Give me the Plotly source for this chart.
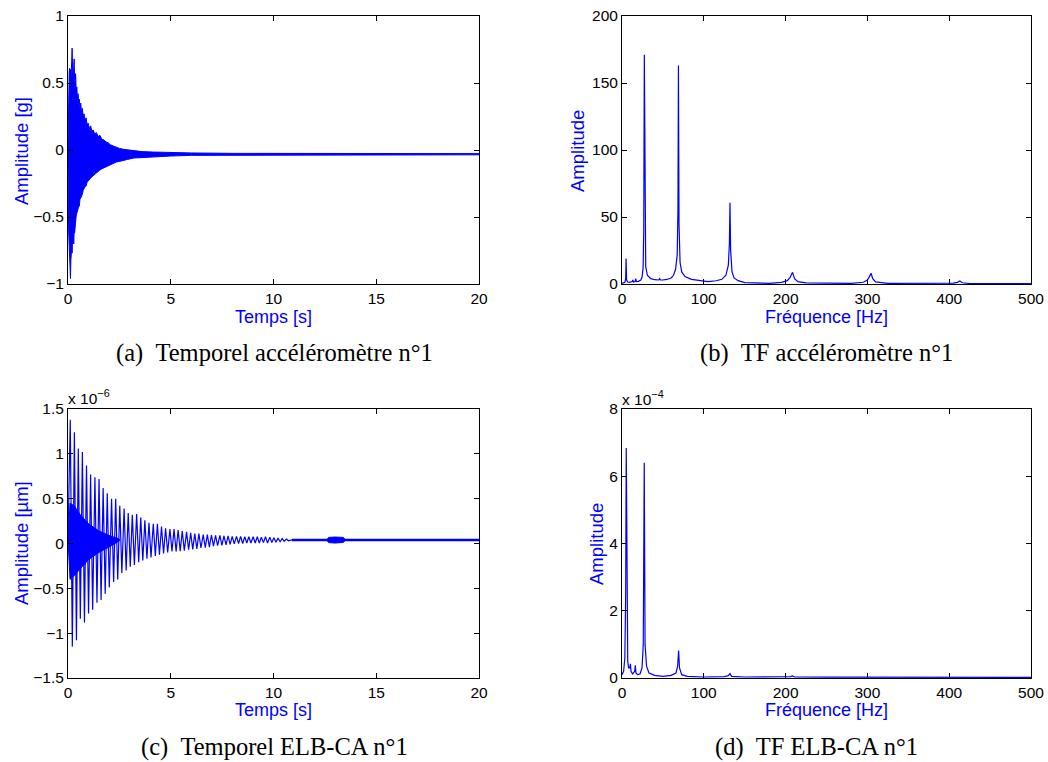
import plotly.graph_objects as go

BLUE = "#0000ff"
SANS = "Liberation Sans, Arial, sans-serif"
SERIF = "Liberation Serif, Times New Roman, serif"

# ---------------- (a) accelerometer, time signal envelope [g] ----------------
t_a = [0.00, 0.03, 0.06, 0.08, 0.10, 0.12, 0.14, 0.16, 0.18, 0.20, 0.22, 0.24, 0.26, 0.28,
       0.30, 0.32, 0.35, 0.37, 0.40, 0.43, 0.46, 0.49, 0.52, 0.55, 0.58, 0.62, 0.66, 0.70,
       0.74, 0.78, 0.83, 0.88, 0.93, 0.98, 1.04, 1.10, 1.16, 1.22, 1.30, 1.38, 1.46, 1.55,
       1.65, 1.75, 1.85, 1.95, 2.05, 2.20, 2.35, 2.50, 2.70, 2.90, 3.20, 3.60, 4.10, 5.0,
       6.0, 8.0, 10.0, 12.0, 14.0, 16.0, 18.0, 20.0]
up_a = [0.05, 0.50, 0.58, 0.61, 0.48, 0.60, 0.52, 0.58, 0.66, 0.76, 0.62, 0.58, 0.52, 0.63,
        0.68, 0.52, 0.48, 0.57, 0.44, 0.47, 0.38, 0.42, 0.36, 0.38, 0.31, 0.35, 0.28, 0.31,
        0.25, 0.27, 0.22, 0.24, 0.19, 0.20, 0.16, 0.18, 0.14, 0.15, 0.12, 0.13, 0.10, 0.11,
        0.08, 0.075, 0.06, 0.055, 0.04, 0.03, 0.02, 0.012, 0.005, 0.0, -0.005, -0.012,
        -0.015, -0.02, -0.022, -0.025, -0.026, -0.027, -0.027, -0.027, -0.027, -0.027]
lo_a = [-0.10, -0.60, -0.72, -0.80, -0.90, -0.96, -0.82, -0.78, -0.72, -0.77, -0.66, -0.70,
        -0.64, -0.70, -0.60, -0.62, -0.56, -0.57, -0.49, -0.47, -0.45, -0.44, -0.41, -0.42,
        -0.37, -0.36, -0.34, -0.33, -0.30, -0.29, -0.27, -0.27, -0.24, -0.23, -0.22, -0.21,
        -0.20, -0.19, -0.18, -0.17, -0.16, -0.15, -0.14, -0.13, -0.125, -0.12, -0.11, -0.10,
        -0.09, -0.085, -0.075, -0.07, -0.06, -0.055, -0.05, -0.045, -0.04, -0.038, -0.036,
        -0.036, -0.036, -0.036, -0.036, -0.036]

# ---------------- (b) accelerometer spectrum ----------------
f_b = [0, 2, 3.5, 4.5, 5.0, 5.6, 7, 9, 11, 12.5, 13.2, 14, 16, 16.8, 17.6, 20, 23, 24.5,
       25.8, 26.6, 27.3, 28.0, 29, 31, 35, 40, 45, 46, 47, 50, 55, 60, 63, 65.5, 67.5,
       68.4, 69.0, 69.7, 71, 73, 77, 85, 95, 105, 115, 122, 127, 130, 131.3, 132, 132.8,
       134.5, 137, 142, 150, 160, 180, 195, 202, 205.5, 208.5, 211, 215, 225, 250, 280,
       295, 300, 302.5, 304.5, 306.5, 310, 325, 380, 405, 410, 413, 416, 425, 500]
amp_b = [0.5, 0.6, 1.2, 4, 19, 3, 1.5, 1.2, 1.3, 1.8, 3, 1.5, 1.8, 4, 1.8, 2, 3, 5,
         12, 40, 171, 40, 13, 6.5, 4, 3.2, 3.0, 4, 3, 3.0, 3.4, 4.5, 6.5, 11, 22,
         55, 163, 45, 16, 9, 5.5, 3.5, 2.4, 1.8, 2.4, 3.5, 6.5, 14, 30, 60.7, 25,
         9, 4.5, 2.5, 1.0, 0.7, 0.5, 1.2, 2.5, 5, 8.7, 4, 1.8, 0.8, 0.5, 0.5,
         1.3, 3, 5.5, 8, 4, 1.6, 0.5, 0.4, 0.6, 1.2, 2.2, 0.9, 0.35, 0.25]

# ---------------- (c) ELB-CA time signal [x 1e-6 um] ----------------
tc_up = [0.11, 0.31, 0.50, 0.70, 0.90, 1.10, 1.31, 1.51, 1.71, 1.91, 2.12, 2.32, 2.52, 2.73,
         2.93, 3.13, 3.34, 3.54, 3.74, 3.94, 4.15, 4.35, 4.55, 4.75, 4.96, 5.16, 5.36, 5.56,
         5.77, 5.97, 6.17, 6.37, 6.58, 6.78, 6.98, 7.18, 7.39, 7.59, 7.79, 7.99, 8.20, 8.40,
         8.60, 8.80, 9.01, 9.21, 9.41, 9.61, 9.82, 10.02, 10.22, 10.42, 10.63]
up_c = [1.38, 1.24, 1.06, 1.02, 0.87, 0.77, 0.74, 0.72, 0.62, 0.56, 0.50, 0.50, 0.42, 0.39,
        0.34, 0.32, 0.33, 0.29, 0.26, 0.23, 0.22, 0.22, 0.19, 0.17, 0.16, 0.16, 0.15, 0.14,
        0.13, 0.12, 0.11, 0.11, 0.10, 0.10, 0.095, 0.09, 0.09, 0.085, 0.085, 0.08, 0.08, 0.08,
        0.075, 0.075, 0.075, 0.075, 0.07, 0.075, 0.07, 0.065, 0.06, 0.055, 0.05]
tc_lo = [0.21, 0.41, 0.60, 0.80, 1.00, 1.20, 1.41, 1.61, 1.81, 2.01, 2.22, 2.42, 2.62, 2.83,
         3.03, 3.23, 3.44, 3.64, 3.84, 4.04, 4.25, 4.45, 4.65, 4.85, 5.06, 5.26, 5.46, 5.66,
         5.87, 6.07, 6.27, 6.47, 6.68, 6.88, 7.08, 7.28, 7.49, 7.69, 7.89, 8.09, 8.30, 8.50,
         8.70, 8.90, 9.11, 9.31, 9.51, 9.71, 9.92, 10.12, 10.32, 10.52, 10.73]
lo_c = [-1.15, -1.08, -0.84, -0.88, -0.78, -0.74, -0.66, -0.63, -0.56, -0.49, -0.43, -0.40,
        -0.33, -0.30, -0.26, -0.24, -0.21, -0.19, -0.17, -0.155, -0.14, -0.125, -0.11, -0.10,
        -0.09, -0.09, -0.085, -0.08, -0.07, -0.065, -0.06, -0.05, -0.045, -0.04, -0.03, -0.025,
        -0.02, -0.015, -0.01, -0.005, 0.0, 0.0, 0.005, 0.005, 0.005, 0.005, 0.01, 0.005, 0.01,
        0.015, 0.02, 0.025, 0.03]
c_base = 0.04
# dense higher-frequency core of (c)
t_core = [0.0, 0.1, 0.3, 0.6, 1.0, 1.5, 2.0, 2.5]
up_core = [0.04, 0.45, 0.42, 0.32, 0.22, 0.14, 0.09, 0.05]
lo_core = [0.04, -0.40, -0.36, -0.28, -0.18, -0.10, -0.04, 0.03]
# small burst around 13 s
t_burst = [12.6, 12.68, 13.0, 13.4, 13.5]
up_burst = [0.04, 0.068, 0.072, 0.068, 0.04]
lo_burst = [0.04, 0.01, 0.005, 0.012, 0.04]

# ---------------- (d) ELB-CA spectrum [x 1e-4] ----------------
f_d = [0, 2, 3.5, 4.5, 5.2, 6, 7, 8, 9.5, 10.3, 11, 13, 15.5, 16.3, 17, 19, 22, 24.5, 26,
       27.2, 28.2, 30, 33, 40, 50, 60, 66, 68, 69.2, 70.3, 73, 80, 100, 125, 130, 132, 134,
       150, 200, 206, 208.5, 211, 250, 500]
amp_d = [0.1, 0.2, 0.6, 2.5, 6.84, 2.0, 0.5, 0.3, 0.3, 0.42, 0.2, 0.12, 0.2, 0.38, 0.15,
         0.1, 0.12, 0.3, 1.0, 6.4, 1.0, 0.35, 0.15, 0.08, 0.05, 0.08, 0.15, 0.35, 0.815, 0.3,
         0.1, 0.05, 0.03, 0.04, 0.07, 0.13, 0.05, 0.03, 0.03, 0.04, 0.06, 0.03, 0.025, 0.02]

# ---------------- ticks & texts ----------------
t_ticks = [0, 5, 10, 15, 20]
f_ticks = [0, 100, 200, 300, 400, 500]
ya_ticks = [-1, -0.5, 0, 0.5, 1]
ya_text = ["\u22121", "\u22120.5", "0", "0.5", "1"]
yb_ticks = [0, 50, 100, 150, 200]
yc_ticks = [-1.5, -1, -0.5, 0, 0.5, 1, 1.5]
yc_text = ["\u22121.5", "\u22121", "\u22120.5", "0", "0.5", "1", "1.5"]
yd_ticks = [0, 2, 4, 6, 8]
captions = ["(a)\u2002Temporel accéléromètre n°1", "(b)\u2002TF accéléromètre n°1",
            "(c)\u2002Temporel ELB-CA n°1", "(d)\u2002TF ELB-CA n°1"]

W, H = 1048, 762
def px(x):
    return x / W
def py(y):
    return 1 - y / H

fig = go.Figure()

# (a)
fig.add_trace(go.Scatter(x=t_a + t_a[::-1], y=up_a + lo_a[::-1], fill="toself",
                         fillcolor=BLUE, mode="lines", line=dict(color=BLUE, width=1),
                         xaxis="x", yaxis="y", hoverinfo="skip"))
# (b)
fig.add_trace(go.Scatter(x=f_b, y=amp_b, mode="lines", line=dict(color=BLUE, width=1.2),
                         xaxis="x2", yaxis="y2"))
# (c)
xc = [0.0]
yc = [c_base]
for a, b, c, d in zip(tc_up, up_c, tc_lo, lo_c):
    xc += [a, c]
    yc += [b, d]
xc += [10.9]
yc += [c_base]
fig.add_trace(go.Scatter(x=t_core + t_core[::-1], y=up_core + lo_core[::-1], fill="toself",
                         fillcolor=BLUE, mode="lines", line=dict(color=BLUE, width=1),
                         xaxis="x3", yaxis="y3", hoverinfo="skip"))
fig.add_trace(go.Scatter(x=xc, y=yc, mode="lines", line=dict(color=BLUE, width=1.2),
                         xaxis="x3", yaxis="y3"))
fig.add_trace(go.Scatter(x=[10.9, 20], y=[c_base, c_base], mode="lines",
                         line=dict(color=BLUE, width=2.5), xaxis="x3", yaxis="y3"))
fig.add_trace(go.Scatter(x=t_burst + t_burst[::-1], y=up_burst + lo_burst[::-1], fill="toself",
                         fillcolor=BLUE, mode="lines", line=dict(color=BLUE, width=1),
                         xaxis="x3", yaxis="y3", hoverinfo="skip"))
# (d)
fig.add_trace(go.Scatter(x=f_d, y=amp_d, mode="lines", line=dict(color=BLUE, width=1.2),
                         xaxis="x4", yaxis="y4"))

axis_common = dict(showline=True, linecolor="black", linewidth=1, mirror="ticks",
                   ticks="inside", ticklen=5, tickcolor="black", showgrid=False,
                   zeroline=False, automargin=False,
                   tickfont=dict(family=SANS, size=15.5, color="black"))

dom_left = [px(68), px(479)]
dom_right = [px(622), px(1031)]
dom_top = [py(284), py(16)]
dom_bot = [py(678), py(409)]

fig.update_layout(
    template="none",
    width=W, height=H, margin=dict(l=0, r=0, t=0, b=0, pad=0), autosize=False,
    paper_bgcolor="white", plot_bgcolor="white", showlegend=False,
    xaxis=dict(domain=dom_left, anchor="y", range=[0, 20], tickvals=t_ticks, **axis_common),
    yaxis=dict(domain=dom_top, anchor="x", range=[-1, 1], tickvals=ya_ticks, ticktext=ya_text,
               **axis_common),
    xaxis2=dict(domain=dom_right, anchor="y2", range=[0, 500], tickvals=f_ticks,
                layer="below traces", **axis_common),
    yaxis2=dict(domain=dom_top, anchor="x2", range=[0, 200], tickvals=yb_ticks, **axis_common),
    xaxis3=dict(domain=dom_left, anchor="y3", range=[0, 20], tickvals=t_ticks, **axis_common),
    yaxis3=dict(domain=dom_bot, anchor="x3", range=[-1.5, 1.5], tickvals=yc_ticks,
                ticktext=yc_text, **axis_common),
    xaxis4=dict(domain=dom_right, anchor="y4", range=[0, 500], tickvals=f_ticks,
                layer="below traces", **axis_common),
    yaxis4=dict(domain=dom_bot, anchor="x4", range=[0, 8], tickvals=yd_ticks, **axis_common),
)

ann = []
def label(text, x, y, angle=0, size=18.5, color=BLUE, family=SANS, xanchor="center",
          yanchor="middle"):
    ann.append(dict(text=text, x=px(x), y=py(y), xref="paper", yref="paper",
                    showarrow=False, textangle=angle, xanchor=xanchor, yanchor=yanchor,
                    font=dict(family=family, size=size, color=color)))

label("Temps [s]", 273, 317, size=18)
label("Fréquence [Hz]", 826, 317, size=18)
label("Temps [s]", 273, 710, size=18)
label("Fréquence [Hz]", 826, 710, size=18)
label("Amplitude [g]", 21, 151, angle=-90)
label("Amplitude", 577, 151, angle=-90)
label("Amplitude [µm]", 21, 543, angle=-90)
label("Amplitude", 596, 544, angle=-90)
label("x 10<sup>\u22126</sup>", 66, 409, size=15.5, color="black", xanchor="left",
      yanchor="bottom")
label("x 10<sup>\u22124</sup>", 620, 410, size=15.5, color="black", xanchor="left",
      yanchor="bottom")
label(captions[0], 274, 353, size=24.5, color="black", family=SERIF)
label(captions[1], 826, 353, size=24.5, color="black", family=SERIF)
label(captions[2], 274, 747, size=24.5, color="black", family=SERIF)
label(captions[3], 816, 747, size=24.5, color="black", family=SERIF)
fig.update_layout(annotations=ann)

fig.write_html("out.html", config={"displayModeBar": False},
               post_script="document.body.style.margin='0px';")
